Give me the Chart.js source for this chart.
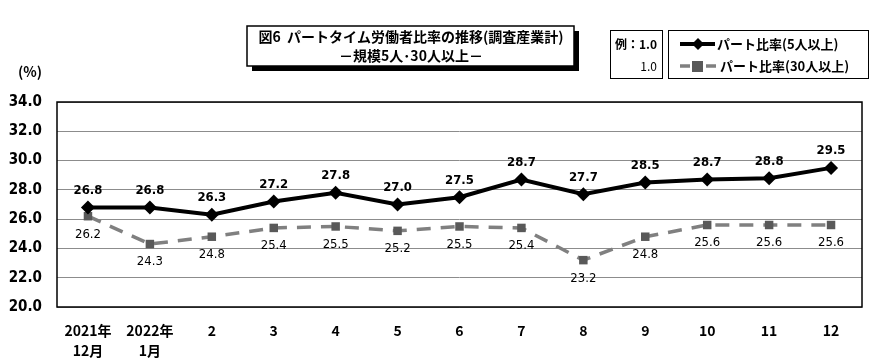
<!DOCTYPE html>
<html>
<head>
<meta charset="utf-8">
<script src="https://cdn.jsdelivr.net/npm/chart.js@4.4.1/dist/chart.umd.min.js"></script>
<style>
  body { margin: 0; background: #fff; }
</style>
</head>
<body>
<canvas id="partChart" width="882" height="362"></canvas>
<script>
// data
const months = [['2021年', '12月'], ['2022年', '1月'], '2', '3', '4', '5', '6', '7', '8', '9', '10', '11', '12'];
const ratio5 = [26.8, 26.8, 26.3, 27.2, 27.8, 27.0, 27.5, 28.7, 27.7, 28.5, 28.7, 28.8, 29.5];
const ratio30 = [26.2, 24.3, 24.8, 25.4, 25.5, 25.2, 25.5, 25.4, 23.2, 24.8, 25.6, 25.6, 25.6];
const yTicks = [20, 22, 24, 26, 28, 30, 32, 34];

const jp = '"Noto Sans CJK JP", sans-serif';
const narrow = '"Liberation Sans Narrow", "DejaVu Sans Condensed", sans-serif';

// value labels + frame + title/legend boxes
const decorPlugin = {
    id: 'decor',
    afterDatasetsDraw(chart) {
        const ctx = chart.ctx;
        const area = chart.chartArea;
        ctx.save();
        ctx.strokeStyle = '#000';
        ctx.lineWidth = 1.5;
        ctx.strokeRect(area.left, area.top, area.right - area.left, area.bottom - area.top);

        ctx.textAlign = 'center';
        ctx.textBaseline = 'middle';
        ctx.fillStyle = '#000';
        chart.getDatasetMeta(0).data.forEach((pt, i) => {
            ctx.font = 'bold 13px ' + narrow;
            ctx.fillText(ratio5[i].toFixed(1), pt.x, pt.y - 17);
        });
        chart.getDatasetMeta(1).data.forEach((pt, i) => {
            ctx.font = '13px ' + narrow;
            ctx.fillText(ratio30[i].toFixed(1), pt.x, pt.y + 18);
        });
        ctx.restore();
    },
    afterDraw(chart) {
        const ctx = chart.ctx;
        ctx.save();
        // (%)
        ctx.font = 'bold 14px ' + jp;
        ctx.fillStyle = '#000';
        ctx.textAlign = 'center';
        ctx.textBaseline = 'middle';
        ctx.fillText('(%)', 30, 72);

        // title box with shadow
        ctx.fillStyle = '#000';
        ctx.fillRect(252, 31, 327, 40);
        ctx.fillStyle = '#fff';
        ctx.fillRect(247, 26, 327, 40);
        ctx.strokeStyle = '#000';
        ctx.lineWidth = 1.5;
        ctx.strokeRect(247, 26, 327, 40);
        ctx.fillStyle = '#000';
        ctx.font = 'bold 14px ' + jp;
        ctx.fillText('図6  パートタイム労働者比率の推移(調査産業計)', 411, 37);
        ctx.fillText('－規模5人･30人以上－', 411, 56);

        // example box
        ctx.lineWidth = 1;
        ctx.strokeRect(610.5, 30.5, 52, 48);
        ctx.font = 'bold 12px ' + jp;
        ctx.textAlign = 'right';
        ctx.fillText('例：1.0', 657, 44);
        ctx.font = '12px ' + jp;
        ctx.fillText('1.0', 657, 66);

        // legend box
        ctx.strokeRect(668.5, 30.5, 200, 48);
        ctx.textAlign = 'left';
        ctx.beginPath();
        ctx.lineWidth = 4;
        ctx.strokeStyle = '#000';
        ctx.moveTo(680, 44);
        ctx.lineTo(715, 44);
        ctx.stroke();
        ctx.beginPath();
        ctx.moveTo(698, 38);
        ctx.lineTo(704, 44);
        ctx.lineTo(698, 50);
        ctx.lineTo(692, 44);
        ctx.closePath();
        ctx.fillStyle = '#000';
        ctx.fill();
        ctx.font = 'bold 13px ' + jp;
        ctx.fillText('パート比率(5人以上)', 717, 44);

        ctx.beginPath();
        ctx.strokeStyle = '#808080';
        ctx.lineWidth = 3.5;
        ctx.moveTo(680, 66);
        ctx.lineTo(690, 66);
        ctx.moveTo(706, 66);
        ctx.lineTo(716, 66);
        ctx.stroke();
        ctx.fillStyle = '#595959';
        ctx.fillRect(692, 61, 11, 11);
        ctx.fillStyle = '#000';
        ctx.fillText('パート比率(30人以上)', 720, 66);
        ctx.restore();
    }
};

function initChart() {
    const ctx = document.getElementById('partChart').getContext('2d');
    new Chart(ctx, {
        type: 'line',
        data: {
            labels: months,
            datasets: [{
                label: 'パート比率(5人以上)',
                data: ratio5,
                borderColor: '#000',
                backgroundColor: '#000',
                borderWidth: 4,
                pointStyle: 'rectRot',
                pointRadius: 7,
                pointBackgroundColor: '#000',
                pointBorderWidth: 0,
                tension: 0,
                order: 1
            }, {
                label: 'パート比率(30人以上)',
                data: ratio30,
                borderColor: '#808080',
                backgroundColor: '#595959',
                borderWidth: 3.5,
                borderDash: [14, 10],
                pointStyle: 'rect',
                pointRadius: 6,
                pointBackgroundColor: '#595959',
                pointBorderWidth: 0,
                tension: 0,
                order: 2
            }]
        },
        options: {
            responsive: false,
            animation: false,
            layout: { padding: { top: 102, right: 20, left: 0, bottom: 0 } },
            plugins: {
                legend: { display: false },
                tooltip: { enabled: false }
            },
            scales: {
                x: {
                    offset: true,
                    grid: { display: false },
                    border: { display: false },
                    ticks: {
                        color: '#000',
                        font: { family: jp, size: 14, weight: 'bold', lineHeight: 1.4 },
                        maxRotation: 0,
                        autoSkip: false,
                        padding: 6
                    },
                    afterFit(scale) { scale.height = 55; }
                },
                y: {
                    min: 20,
                    max: 34,
                    afterBuildTicks(scale) { scale.ticks = yTicks.map(v => ({ value: v })); },
                    grid: { color: '#8c8c8c', lineWidth: 1, drawTicks: false },
                    border: { display: false },
                    ticks: {
                        color: '#000',
                        padding: 15,
                        font: { family: narrow, size: 15, weight: 'bold' },
                        callback: v => v.toFixed(1)
                    },
                    afterFit(scale) { scale.width = 57; }
                }
            }
        },
        plugins: [decorPlugin]
    });
}

window.onload = initChart;
</script>
</body>
</html>
